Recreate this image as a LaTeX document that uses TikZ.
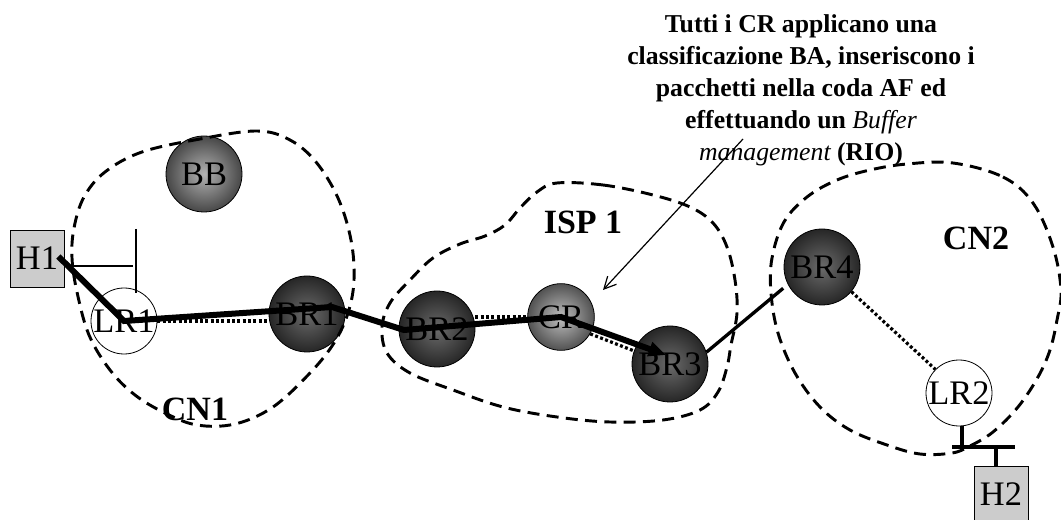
\documentclass[tikz,border=0pt]{standalone}
\usepackage{fontspec}
\setmainfont{Liberation Serif}
\usetikzlibrary{arrows.meta,calc}
\definecolor{hostgray}{gray}{0.8}
\definecolor{brin}{gray}{0.42}
\definecolor{brout}{gray}{0.15}
\definecolor{bbin}{gray}{0.70}
\definecolor{bbout}{gray}{0.28}
\definecolor{crin}{gray}{0.75}
\definecolor{crout}{gray}{0.32}
\begin{document}
\begin{tikzpicture}[x=0.75pt,y=-0.75pt,
  lbl/.style={font=\fontsize{25.8}{30}\selectfont, inner sep=0pt},
  grp/.style={font=\fontsize{25.5}{30}\selectfont\bfseries, inner sep=0pt},
  ball/.style={circle, draw=black, line width=0.6pt, minimum size=57pt, lbl},
  brnode/.style={ball, inner color=brin, outer color=brout},
  bbnode/.style={ball, inner color=bbin, outer color=bbout},
  crnode/.style={ball, minimum size=50pt, inner color=crin, outer color=crout},
  lrnode/.style={ball, minimum size=49.5pt, fill=white},
  hostbox/.style={rectangle, draw=black, line width=0.6pt, fill=hostgray, minimum width=40.5pt, minimum height=42.75pt, lbl},
  boundary/.style={dashed, line width=2.2pt, dash pattern=on 9pt off 5.5pt},
  dotline/.style={line width=2.4pt, dash pattern=on 2.2pt off 1.8pt},
  mainpath/.style={line width=4.5pt, -{Triangle[length=13pt,width=10.5pt]}},
  midline/.style={line width=2.5pt},
  thinline/.style={line width=0.9pt},
  note/.style={align=center, inner sep=0pt, font=\fontsize{19.3}{24}\selectfont\bfseries}
]
\useasboundingbox (0,0) rectangle (1061,520);
\fill[white] (0,0) rectangle (1061,520);

% nodes
\node[hostbox] (H1) at (37,258.5) {H1};
\node[bbnode] (BB) at (204,174) {BB};
\node[lrnode] (LR1) at (124,321) {LR1};
\node[brnode] (BR1) at (307,314) {BR1};
\node[brnode] (BR2) at (437,329) {BR2};
\node[crnode] (CR) at (561,317) {CR};
\node[brnode] (BR3) at (670,364) {BR3};
\node[brnode] (BR4) at (822,267) {BR4};
\node[lrnode] (LR2) at (959,393) {LR2};
\node[hostbox] (H2) at (1001,494.5) {H2};

% group labels
\node[grp] (cn1) at (195,409) {CN1};
\node[grp] (isp) at (583,222) {ISP 1};
\node[grp] (cn2) at (976,238) {CN2};

% boundaries
\draw[boundary] plot[smooth cycle, tension=0.6] coordinates {
 (257,131) (200,139) (142,152) (105,172) (84,197) (74,228) (72,258) (77,292)
 (89,335) (110,370) (135,395) (165,413) (197,425) (235,424) (273,407) (310,373)
 (334,343) (348,313) (354,280) (351,240) (338,198) (316,162) (290,140)};
\draw[boundary] plot[smooth cycle, tension=0.6] coordinates {
 (557,183) (603,185) (653,195) (690,207) (713,223) (727,247) (735,280) (737,313)
 (731,345) (727,367) (718,392) (700,410) (663,420) (610,422) (557,417) (503,407)
 (453,390) (410,373) (387,353) (382,327) (390,303) (410,280) (433,258) (460,244)
 (485,236) (505,225) (520,208) (537,192)};
\draw[boundary] plot[smooth cycle, tension=0.6] coordinates {
 (953,163) (1003,177) (1033,203) (1053,247) (1061,290) (1057,320) (1050,350)
 (1038,377) (1018,407) (993,432) (970,446) (952,453) (920,454) (887,445) (850,430)
 (820,407) (795,373) (778,333) (771,293) (772,258) (784,222) (807,197) (837,180)
 (870,170) (907,164)};

% dotted links
\draw[dotline] (LR1.east) -- (LR1.east -| BR1.west);
\draw[dotline] (BR2.east |- CR.west) -- (CR.west);
\draw[dotline] (CR.-30) -- (BR3.160);
\draw[dotline] (BR4.-40) -- (LR2.135);

% H1 thin T
\coordinate (t1) at (133,266);
\coordinate (t2) at (136,229);
\coordinate (t3) at (136,293);
\draw[thinline] (t1 -| H1.east) -- (t1);
\draw[thinline] (t2) -- (t3);

% LR2 - H2 connectors
\coordinate (j1) at (962,447);
\coordinate (b1) at (952,447);
\coordinate (b2) at (1015,447);
\coordinate (j2) at (996,447);
\draw[midline] (LR2.south -| j1) -- (j1);
\draw[midline] (b1) -- (b2);
\draw[midline] (j2) -- (j2 |- H2.north);

% BR3 - BR4
\draw[midline, shorten >=4.5pt] (BR3.18) -- (BR4.207);

% main path
\draw[mainpath] ([xshift=-4.5pt,yshift=1.5pt]H1.east) -- (LR1.center)
  -- ([xshift=18.75pt,yshift=5.25pt]BR1.center)
  -- ([xshift=-24.75pt,yshift=-0.75pt]BR2.center)
  -- (CR.center)
  -- ([xshift=-3pt,yshift=6.75pt]BR3.center);

% annotation
\node[note, anchor=north] (txt) at (801,14.5) {Tutti i CR applicano una\\
classificazione BA, inseriscono i\\
pacchetti nella coda AF ed\\
effettuando un {\mdseries\itshape Buffer}\\
{\mdseries\itshape management} (RIO)};
\coordinate (a1) at (743,139);
\coordinate (a2) at (603,290);
\draw[thinline, -{Straight Barb[length=9pt,width=9pt]}] (a1) -- (a2);
\end{tikzpicture}
\end{document}
